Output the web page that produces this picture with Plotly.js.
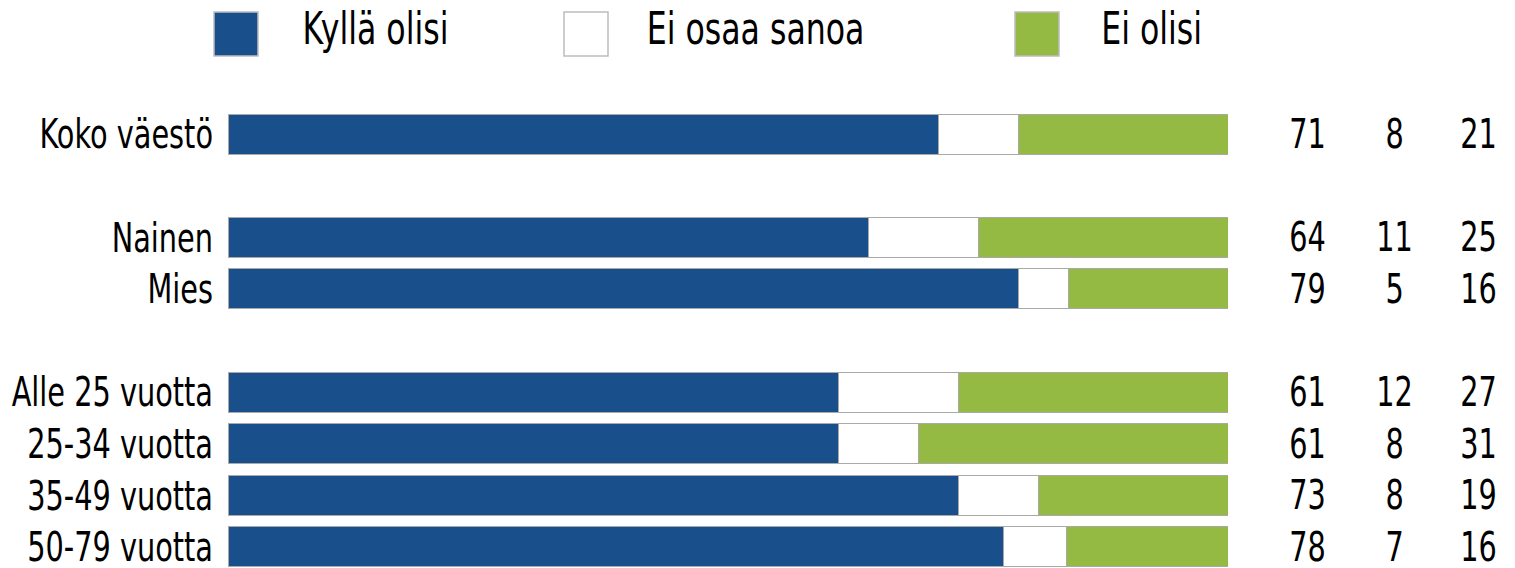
<!DOCTYPE html>
<html>
<head>
<meta charset="utf-8">
<script src="https://cdn.plot.ly/plotly-3.0.1.min.js"></script>
<style>html,body{margin:0;padding:0;background:#fff;}#chart{width:1515px;height:568px;}</style>
</head>
<body>
<div id="chart"></div>
<script>
// Categories (blank entries are the gaps between groups)
var categories = ['Koko väestö', ' ', 'Nainen', 'Mies', '  ', 'Alle 25 vuotta', '25-34 vuotta', '35-49 vuotta', '50-79 vuotta'];
// Bar values (%)
var kylla = [71, null, 64, 79, null, 61, 61, 73, 77.5];
var eiOsaa = [8, null, 11, 5, null, 12, 8, 8, 6.3];
var eiOlisi = [21, null, 25, 16, null, 27, 31, 19, 16.2];
// Printed numbers in the right-hand columns
var kyllaLabels = ['71', '', '64', '79', '', '61', '61', '73', '78'];
var eiOsaaLabels = ['8', '', '11', '5', '', '12', '8', '8', '7'];
var eiOlisiLabels = ['21', '', '25', '16', '', '27', '31', '19', '16'];
var seriesNames = ['Kyllä olisi', 'Ei osaa sanoa', 'Ei olisi'];
var seriesColors = ['#19508c', '#ffffff', '#95ba43'];

var FONT = '"DejaVu Sans Condensed", "Liberation Sans Narrow", sans-serif';
var values = [kylla, eiOsaa, eiOlisi];

var traces = values.map(function (v, i) {
  return {
    type: 'bar',
    orientation: 'h',
    y: categories,
    x: v,
    name: seriesNames[i],
    marker: {color: seriesColors[i], line: {color: '#a9a9a9', width: 1}},
    hoverinfo: 'name+x',
    showlegend: false
  };
});

var annotations = [];
var colX = [1.079, 1.166, 1.250];
[kyllaLabels, eiOsaaLabels, eiOlisiLabels].forEach(function (labels, c) {
  labels.forEach(function (t, r) {
    if (t === '') return;
    annotations.push({
      xref: 'paper', yref: 'y', x: colX[c], y: categories[r],
      text: t, showarrow: false, xanchor: 'center', yanchor: 'middle',
      font: {family: FONT, size: 41, color: '#000'}
    });
  });
});

// Legend (drawn with shapes + text to get large swatches)
var legendX = [-0.014, 0.336, 0.787];
var legendTextX = [0.147, 0.527, 0.923];
var shapes = [];
seriesNames.forEach(function (n, i) {
  shapes.push({
    type: 'rect', xref: 'paper', yref: 'paper',
    x0: legendX[i], x1: legendX[i] + 0.044, y0: 1.113, y1: 1.2087,
    fillcolor: seriesColors[i], line: {color: '#bdbdbd', width: 1.5}
  });
  annotations.push({
    xref: 'paper', yref: 'paper', x: legendTextX[i], y: 1.172,
    text: n, showarrow: false, xanchor: 'center', yanchor: 'middle',
    font: {family: FONT, size: 45, color: '#000'}
  });
});

var layout = {
  width: 1515, height: 568,
  margin: {l: 228, r: 287, t: 108, b: 0},
  paper_bgcolor: '#fff', plot_bgcolor: '#fff',
  barmode: 'stack',
  bargap: 0.225,
  showlegend: false,
  xaxis: {range: [0, 100], showgrid: false, zeroline: false, showticklabels: false, showline: false, fixedrange: true},
  yaxis: {
    type: 'category', categoryorder: 'array', categoryarray: categories,
    range: [8.407, -0.504], showgrid: false, zeroline: false, showline: false,
    ticks: '', ticklabelstandoff: 14,
    tickfont: {family: FONT, size: 41, color: '#000'}, fixedrange: true
  },
  shapes: shapes,
  annotations: annotations
};

Plotly.newPlot('chart', traces, layout, {displayModeBar: false, staticPlot: true}).then(function () {
  // Narrow the text horizontally to mimic the condensed typeface of the original
  var texts = document.querySelectorAll('#chart .ytick text, #chart .annotation-text');
  texts.forEach(function (el) {
    var w = el.getComputedTextLength();
    if (w > 0) {
      el.setAttribute('textLength', (w * 0.78).toFixed(1));
      el.setAttribute('lengthAdjust', 'spacingAndGlyphs');
    }
  });
});
</script>
</body>
</html>
